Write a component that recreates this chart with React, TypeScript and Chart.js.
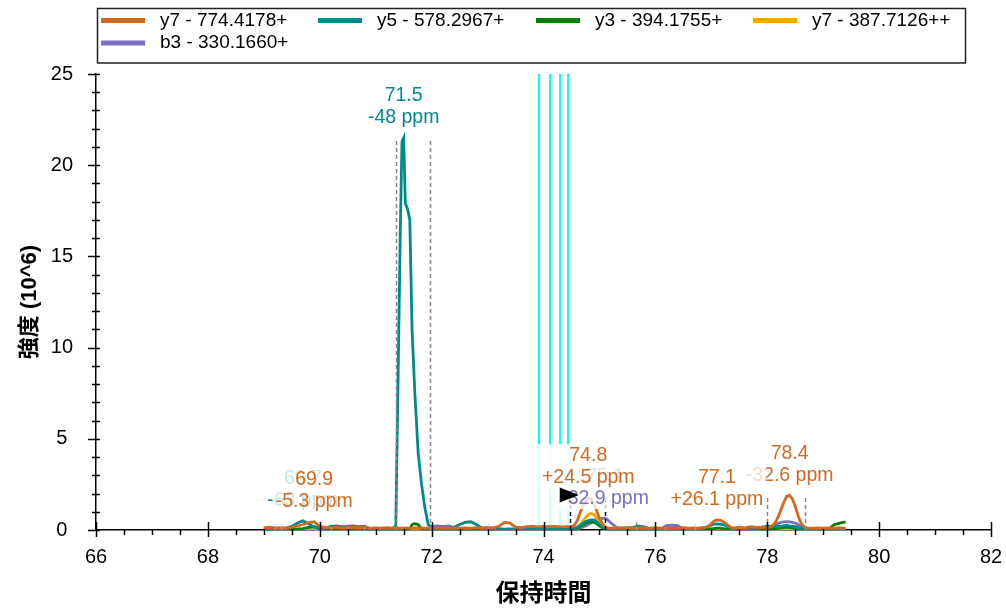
import { useEffect, useRef } from "react";
import { Chart, registerables } from "chart.js";

Chart.register(...registerables);

// Retention time grid (min), finer around the eluting peaks
const retentionTimes = [
  69.0, 69.1, 69.2, 69.3, 69.4, 69.5, 69.6, 69.7, 69.8, 69.9, 70.0, 70.1, 70.2, 70.3, 70.4, 70.5, 70.6, 70.7, 70.8, 70.9, 71.0, 71.1, 71.2, 71.3,
  71.36, 71.4, 71.44, 71.47, 71.5, 71.53, 71.57, 71.61, 71.65, 71.7, 71.76, 71.82, 71.88, 71.94, 72.0,
  72.1, 72.2, 72.3, 72.4, 72.5, 72.6, 72.7, 72.8, 72.9, 73.0, 73.1, 73.2, 73.3, 73.4, 73.5, 73.6, 73.7, 73.8, 73.9, 74.0, 74.1, 74.2, 74.3, 74.4, 74.5,
  74.55, 74.6, 74.65, 74.7, 74.75, 74.8, 74.85, 74.9, 74.95, 75.0, 75.05, 75.1, 75.15, 75.2, 75.25,
  75.3, 75.4, 75.5, 75.6, 75.7, 75.8, 75.9, 76.0, 76.1, 76.2, 76.3, 76.4, 76.5, 76.6, 76.7, 76.8, 76.9,
  76.95, 77.0, 77.05, 77.1, 77.15, 77.2, 77.25, 77.3, 77.35,
  77.4, 77.5, 77.6, 77.7, 77.8, 77.9, 78.0,
  78.05, 78.1, 78.15, 78.2, 78.25, 78.3, 78.35, 78.4, 78.45, 78.5, 78.55, 78.6, 78.65, 78.7,
  78.8, 78.9, 79.0, 79.1, 79.2, 79.3, 79.4,
];

// Intensities (10^6) per transition
const y7_774 = [
  0.12, 0.15, 0.10, 0.13, 0.10, 0.16, 0.22, 0.30, 0.40, 0.45, 0.20, 0.14, 0.12, 0.16, 0.10, 0.13, 0.15, 0.11, 0.14, 0.10, 0.12, 0.10, 0.13, 0.10,
  0.10, 0.12, 0.10, 0.10, 0.12, 0.10, 0.11, 0.10, 0.10, 0.12, 0.10, 0.11, 0.10, 0.10, 0.12,
  0.10, 0.12, 0.10, 0.11, 0.10, 0.12, 0.10, 0.13, 0.11, 0.14, 0.12, 0.20, 0.42, 0.38, 0.16, 0.13, 0.18, 0.20, 0.17, 0.20, 0.18, 0.20, 0.17, 0.19, 0.20,
  0.25, 0.50, 0.90, 1.30, 1.60, 1.75, 1.70, 1.45, 1.05, 0.65, 0.35, 0.18, 0.12, 0.10, 0.10,
  0.12, 0.10, 0.13, 0.10, 0.12, 0.11, 0.10, 0.13, 0.10, 0.12, 0.10, 0.11, 0.13, 0.10, 0.12, 0.10, 0.14,
  0.20, 0.35, 0.50, 0.55, 0.54, 0.48, 0.38, 0.24, 0.15,
  0.12, 0.15, 0.12, 0.18, 0.14, 0.16, 0.13,
  0.15, 0.25, 0.45, 0.75, 1.15, 1.55, 1.85, 1.90, 1.70, 1.30, 0.80, 0.40, 0.20, 0.12,
  0.10, 0.12, 0.10, 0.11, 0.10, 0.12, 0.10,
];

const y5_578 = [
  0.05, 0.08, 0.12, 0.06, 0.10, 0.20, 0.38, 0.50, 0.35, 0.15, 0.10, 0.08, 0.20, 0.22, 0.18, 0.20, 0.23, 0.19, 0.20, 0.08, 0.10, 0.06, 0.08, 0.10,
  0.20, 8.3, 16.4, 21.3, 21.5, 17.9, 17.6, 17.0, 11.0, 7.5, 4.2, 2.5, 1.2, 0.30, 0.15,
  0.10, 0.08, 0.10, 0.15, 0.30, 0.42, 0.45, 0.30, 0.10, 0.06, 0.05, 0.08, 0.05, 0.06, 0.05, 0.04, 0.05, 0.06, 0.05, 0.04, 0.05, 0.06, 0.05, 0.06, 0.08,
  0.10, 0.15, 0.25, 0.35, 0.45, 0.52, 0.55, 0.55, 0.45, 0.30, 0.18, 0.10, 0.08, 0.06, 0.05,
  0.08, 0.12, 0.10, 0.15, 0.22, 0.12, 0.08, 0.06, 0.05, 0.07, 0.05, 0.06, 0.05, 0.06, 0.08, 0.10, 0.15,
  0.20, 0.28, 0.32, 0.33, 0.32, 0.30, 0.25, 0.18, 0.10,
  0.08, 0.06, 0.05, 0.07, 0.10, 0.15, 0.22,
  0.20, 0.18, 0.20, 0.22, 0.20, 0.24, 0.25, 0.22, 0.20, 0.18, 0.15, 0.12, 0.08, 0.06,
  0.05, 0.06, 0.05, 0.06, 0.05, 0.04, 0.05,
];

const y3_394 = [
  0.02, 0.03, 0.02, 0.04, 0.03, 0.02, 0.05, 0.08, 0.15, 0.20, 0.05, 0.03, 0.02, 0.03, 0.02, 0.03, 0.02, 0.04, 0.02, 0.03, 0.02, 0.03, 0.02, 0.03,
  0.02, 0.03, 0.02, 0.03, 0.02, 0.03, 0.02, 0.05, 0.30, 0.35, 0.30, 0.05, 0.03, 0.02, 0.03,
  0.02, 0.03, 0.02, 0.03, 0.02, 0.03, 0.02, 0.03, 0.02, 0.03, 0.02, 0.03, 0.02, 0.03, 0.02, 0.03, 0.02, 0.03, 0.02, 0.03, 0.02, 0.03, 0.02, 0.03, 0.04,
  0.06, 0.10, 0.18, 0.28, 0.36, 0.42, 0.45, 0.43, 0.35, 0.22, 0.12, 0.06, 0.04, 0.03, 0.02,
  0.03, 0.02, 0.03, 0.02, 0.03, 0.02, 0.03, 0.02, 0.03, 0.02, 0.03, 0.02, 0.03, 0.02, 0.03, 0.02, 0.03,
  0.04, 0.06, 0.08, 0.10, 0.10, 0.08, 0.06, 0.04, 0.03,
  0.02, 0.03, 0.02, 0.03, 0.02, 0.03, 0.04,
  0.05, 0.06, 0.08, 0.10, 0.12, 0.14, 0.15, 0.14, 0.12, 0.10, 0.08, 0.06, 0.04, 0.03,
  0.03, 0.04, 0.03, 0.05, 0.30, 0.38, 0.45,
];

const y7_387 = [
  0.02, 0.01, 0.02, 0.01, 0.02, 0.01, 0.02, 0.01, 0.02, 0.03, 0.02, 0.01, 0.02, 0.01, 0.02, 0.01, 0.02, 0.01, 0.02, 0.01, 0.02, 0.01, 0.02, 0.01,
  0.02, 0.01, 0.02, 0.01, 0.02, 0.01, 0.02, 0.01, 0.02, 0.01, 0.02, 0.01, 0.02, 0.01, 0.02,
  0.01, 0.02, 0.01, 0.02, 0.01, 0.02, 0.01, 0.02, 0.01, 0.02, 0.01, 0.02, 0.01, 0.02, 0.01, 0.02, 0.01, 0.02, 0.01, 0.02, 0.01, 0.02, 0.01, 0.02, 0.03,
  0.05, 0.12, 0.25, 0.45, 0.68, 0.85, 0.90, 0.85, 0.65, 0.40, 0.20, 0.08, 0.04, 0.02, 0.02,
  0.01, 0.02, 0.01, 0.02, 0.01, 0.02, 0.01, 0.02, 0.01, 0.02, 0.01, 0.02, 0.01, 0.02, 0.01, 0.02, 0.01,
  0.02, 0.03, 0.04, 0.05, 0.04, 0.03, 0.02, 0.02, 0.01,
  0.02, 0.01, 0.02, 0.01, 0.02, 0.01, 0.02,
  0.02, 0.03, 0.04, 0.05, 0.06, 0.07, 0.08, 0.08, 0.07, 0.06, 0.05, 0.04, 0.03, 0.02,
  0.01, 0.02, 0.01, 0.02, 0.01, 0.02, 0.01,
];

const b3_330 = [
  0.03, 0.02, 0.04, 0.03, 0.02, 0.03, 0.04, 0.03, 0.05, 0.08, 0.15, 0.12, 0.05, 0.03, 0.04, 0.03, 0.02, 0.03, 0.04, 0.03, 0.02, 0.03, 0.02, 0.03,
  0.02, 0.03, 0.02, 0.03, 0.02, 0.03, 0.02, 0.03, 0.02, 0.03, 0.02, 0.03, 0.05, 0.12, 0.20,
  0.22, 0.20, 0.22, 0.15, 0.05, 0.03, 0.02, 0.03, 0.04, 0.03, 0.02, 0.03, 0.02, 0.03, 0.04, 0.03, 0.02, 0.03, 0.02, 0.03, 0.02, 0.03, 0.04, 0.03, 0.04,
  0.04, 0.06, 0.10, 0.15, 0.22, 0.30, 0.40, 0.50, 0.58, 0.62, 0.64, 0.65, 0.55, 0.40, 0.28,
  0.15, 0.06, 0.04, 0.10, 0.20, 0.18, 0.05, 0.03, 0.06, 0.24, 0.26, 0.24, 0.06, 0.03, 0.02, 0.03, 0.02,
  0.03, 0.04, 0.05, 0.06, 0.05, 0.04, 0.03, 0.02, 0.03,
  0.02, 0.03, 0.02, 0.03, 0.04, 0.06, 0.10,
  0.15, 0.22, 0.30, 0.38, 0.42, 0.45, 0.46, 0.45, 0.42, 0.38, 0.30, 0.20, 0.10, 0.05,
  0.03, 0.02, 0.03, 0.02, 0.03, 0.02, 0.03,
];

const seriesNames = ["y7 - 774.4178+", "y5 - 578.2967+", "y3 - 394.1755+", "y7 - 387.7126++", "b3 - 330.1660+"];
const seriesValues = [y7_774, y5_578, y3_394, y7_387, b3_330];
const seriesColors = ["#D2691E", "#008B8B", "#008000", "#FFA500", "#7A6FC0"];

// Peak annotations: which transition, apex retention time, mass error
const peakSeries = [1, 0, 1, 4, 0, 0, 0];
const peakTimes = [69.7, 69.9, 71.5, 75.1, 74.8, 78.4, 77.1];
const peakErrors = ["-63 ppm", "-5.3 ppm", "-48 ppm", "-32.9 ppm", "+24.5 ppm", "-32.6 ppm", "+26.1 ppm"];

// Integration boundaries (index into the peak list)
const boundaryPeaks = [2, 5, 4];
const boundaryStart = [71.36, 78.0, 74.47];
const boundaryEnd = [71.97, 78.67, 75.1];
const selectedPeak = 4;

// Small boundary marks of minor peaks
const minorBoundaryTimes = [69.2, 69.3, 70.2, 70.5, 70.8, 73.0, 75.65, 76.17, 76.7, 77.5];
const minorBoundaryHeights = [0.3, 0.3, 0.3, 0.3, 0.3, 0.3, 0.55, 0.3, 0.3, 0.3];

// MS/MS scan times
const ms2ScanTimes = [73.92, 74.12, 74.29, 74.44];

const LATIN = '"Liberation Sans", Arial, sans-serif';
const CJK = '"Liberation Sans", "Noto Sans CJK JP", sans-serif';

function apexValue(series: number, t: number): number {
  const i = retentionTimes.findIndex((v) => Math.abs(v - t) < 1e-9);
  return seriesValues[series][i];
}

const decorPlugin = {
  id: "chromDecor",
  beforeDatasetsDraw(chart: any) {
    const { ctx, chartArea, scales } = chart;
    const x = scales.x;
    const y = scales.y;
    ctx.save();
    const fadeY = y.getPixelForValue(4.7);
    for (const t of ms2ScanTimes) {
      const px = Math.round(x.getPixelForValue(t));
      ctx.lineWidth = 2;
      ctx.strokeStyle = "#00FFFF";
      ctx.beginPath();
      ctx.moveTo(px, chartArea.top);
      ctx.lineTo(px, fadeY);
      ctx.stroke();
      ctx.strokeStyle = "rgba(0,255,255,0.2)";
      ctx.beginPath();
      ctx.moveTo(px, fadeY);
      ctx.lineTo(px, chartArea.bottom);
      ctx.stroke();
    }
    ctx.restore();
  },
  afterDatasetsDraw(chart: any) {
    const { ctx, scales } = chart;
    const x = scales.x;
    const y = scales.y;
    const base = y.getPixelForValue(0);
    ctx.save();

    // peak boundaries
    ctx.lineWidth = 1.5;
    ctx.setLineDash([4, 3]);
    boundaryPeaks.forEach((p, k) => {
      const top = y.getPixelForValue(apexValue(peakSeries[p], peakTimes[p]));
      ctx.strokeStyle = p === selectedPeak ? "#000" : "#888";
      for (const t of [boundaryStart[k], boundaryEnd[k]]) {
        const px = Math.round(x.getPixelForValue(t)) + 0.5;
        ctx.beginPath();
        ctx.moveTo(px, base);
        ctx.lineTo(px, top);
        ctx.stroke();
      }
    });
    ctx.strokeStyle = "#999";
    ctx.setLineDash([3, 2]);
    minorBoundaryTimes.forEach((t, k) => {
      const px = Math.round(x.getPixelForValue(t)) + 0.5;
      ctx.beginPath();
      ctx.moveTo(px, base);
      ctx.lineTo(px, y.getPixelForValue(minorBoundaryHeights[k]));
      ctx.stroke();
    });
    ctx.setLineDash([]);

    // peak labels
    ctx.font = `19.5px ${LATIN}`;
    ctx.textAlign = "center";
    ctx.textBaseline = "middle";
    peakTimes.forEach((t, k) => {
      const s = peakSeries[k];
      const px = x.getPixelForValue(t);
      const py = y.getPixelForValue(apexValue(s, t));
      const l1 = t.toFixed(1);
      const l2 = peakErrors[k];
      const w = Math.max(ctx.measureText(l1).width, ctx.measureText(l2).width) + 6;
      const y1 = py - 42;
      const y2 = py - 20;
      ctx.fillStyle = "rgba(255,255,255,0.78)";
      ctx.fillRect(px - w / 2, y1 - 11, w, y2 - y1 + 22);
      ctx.fillStyle = seriesColors[s];
      ctx.fillText(l1, px, y1);
      ctx.fillText(l2, px, y2);
    });

    // selected peak marker
    const ax = x.getPixelForValue(peakTimes[selectedPeak]);
    const ay = y.getPixelForValue(apexValue(peakSeries[selectedPeak], peakTimes[selectedPeak]));
    ctx.fillStyle = "#000";
    ctx.beginPath();
    ctx.moveTo(ax - 9.5, ay - 3);
    ctx.lineTo(ax - 28.5, ay - 10.5);
    ctx.lineTo(ax - 28.5, ay + 4.5);
    ctx.closePath();
    ctx.fill();
    ctx.restore();
  },
  afterDraw(chart: any) {
    const { ctx, chartArea, scales } = chart;
    const x = scales.x;
    const y = scales.y;
    ctx.save();
    ctx.strokeStyle = "#000";
    ctx.lineWidth = 1.5;
    // y ticks: major every 5, minor every 1
    for (let i = 0; i <= 25; i++) {
      const py = Math.round(y.getPixelForValue(i)) + 0.5;
      const major = i % 5 === 0;
      ctx.beginPath();
      ctx.moveTo(chartArea.left - (major ? 8 : 4), py);
      ctx.lineTo(chartArea.left + 4, py);
      ctx.stroke();
    }
    // x ticks: major every 2, minor every 0.5
    for (let i = 0; i <= 32; i++) {
      const px = Math.round(x.getPixelForValue(66 + i * 0.5)) + 0.5;
      const major = i % 4 === 0;
      ctx.beginPath();
      ctx.moveTo(px, chartArea.bottom - (major ? 8 : 1));
      ctx.lineTo(px, chartArea.bottom + (major ? 7 : 5));
      ctx.stroke();
    }

    // legend
    ctx.lineWidth = 1.5;
    ctx.strokeStyle = "#222";
    ctx.strokeRect(97.5, 8.5, 868, 54.5);
    const colX = [101, 318, 536, 753];
    const rowY = [20.5, 43];
    ctx.font = `19px ${LATIN}`;
    ctx.textAlign = "left";
    ctx.textBaseline = "middle";
    chart.data.datasets.forEach((ds: any, i: number) => {
      const cx = colX[i % 4];
      const cy = rowY[Math.floor(i / 4)];
      ctx.fillStyle = ds.borderColor;
      ctx.fillRect(cx, cy - 2.5, 44, 5);
      ctx.fillStyle = "#000";
      ctx.fillText(ds.label, cx + 59, cy);
    });
    ctx.restore();
  },
};

export default function App() {
  const canvasRef = useRef<HTMLCanvasElement>(null);

  useEffect(() => {
    const canvas = canvasRef.current;
    if (!canvas) return;
    const chart = new Chart(canvas, {
      type: "line",
      data: {
        datasets: seriesNames.map((name, i) => ({
          label: name,
          data: retentionTimes.map((t, j) => ({ x: t, y: seriesValues[i][j] })),
          borderColor: seriesColors[i],
          backgroundColor: seriesColors[i],
          borderWidth: 2.8,
          pointRadius: 0,
          tension: 0,
          fill: false,
        })),
      },
      options: {
        responsive: false,
        devicePixelRatio: 1,
        animation: false,
        layout: { padding: { top: 74, right: 15, left: 0, bottom: 0 } },
        plugins: {
          legend: { display: false },
          tooltip: { enabled: false },
        },
        scales: {
          x: {
            type: "linear",
            min: 66,
            max: 82,
            border: { display: true, color: "#000", width: 1.5 },
            grid: { display: false, drawTicks: false },
            ticks: {
              stepSize: 2,
              padding: 15,
              color: "#000",
              maxRotation: 0,
              autoSkip: false,
              font: { family: LATIN, size: 20 },
            },
            title: {
              display: true,
              text: "保持時間",
              color: "#000",
              font: { family: CJK, size: 24, weight: "bold" },
              padding: { top: 0, bottom: 0 },
            },
            afterFit: (s: any) => {
              s.height = 79;
              s.paddingLeft = 0;
              s.paddingRight = 0;
            },
          },
          y: {
            type: "linear",
            min: 0,
            max: 25,
            border: { display: true, color: "#000", width: 1.5 },
            grid: { display: false, drawTicks: false },
            ticks: {
              stepSize: 5,
              padding: 23,
              crossAlign: "center",
              color: "#000",
              font: { family: LATIN, size: 20 },
            },
            title: {
              display: true,
              text: "強度 (10^6)",
              color: "#000",
              font: { family: CJK, size: 22, weight: "bold" },
              padding: { top: 17, bottom: 0 },
            },
            afterFit: (s: any) => {
              s.width = 96;
              s.paddingTop = 0;
              s.paddingBottom = 0;
            },
          },
        },
      } as any,
      plugins: [decorPlugin],
    });
    return () => chart.destroy();
  }, []);

  return (
    <div style={{ position: "absolute", left: 0, top: 0, width: 1006, height: 609, background: "#fff" }}>
      <canvas ref={canvasRef} width={1006} height={609} />
    </div>
  );
}
